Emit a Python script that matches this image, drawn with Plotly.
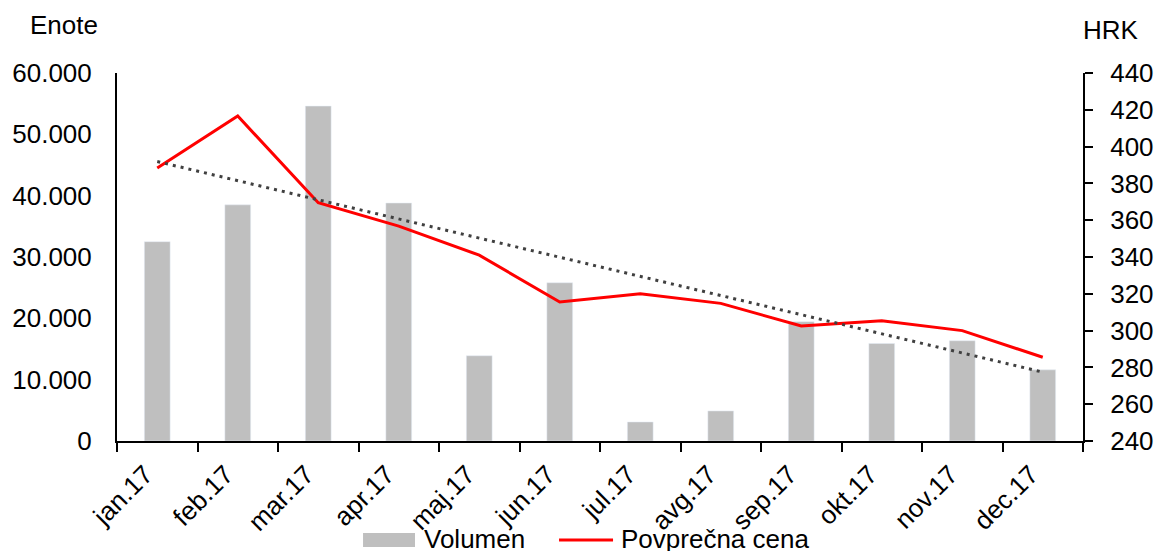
import numpy as np
import plotly.graph_objects as go

months = ["jan.17", "feb.17", "mar.17", "apr.17", "maj.17", "jun.17",
          "jul.17", "avg.17", "sep.17", "okt.17", "nov.17", "dec.17"]
volumen = [32500, 38500, 54600, 38800, 13900, 25800, 3100, 4900, 19450, 15900, 16350, 11600]
cena = [388.4, 416.6, 369.5, 356.8, 341.0, 315.5, 320.0, 314.8, 302.5, 305.4, 300.0, 285.5]
series_names = ["Volumen", "Povprečna cena"]

# linear trend of the price series
idx = np.arange(len(cena))
k, n = np.polyfit(idx, cena, 1)
trend = list(k * idx + n)

FONT = "Liberation Sans, Arial, sans-serif"
BAR_COLOR = "#bfbfbf"
LINE_COLOR = "#ff0000"

fig = go.Figure()
fig.add_trace(go.Bar(x=months, y=volumen, name=series_names[0], marker_color=BAR_COLOR,
                     width=0.32, yaxis="y", showlegend=False))
fig.add_trace(go.Scatter(x=months, y=cena, name=series_names[1], mode="lines",
                         line=dict(color=LINE_COLOR, width=3), yaxis="y2", showlegend=False))
fig.add_trace(go.Scatter(x=months, y=trend, name="Trend", mode="lines", showlegend=False,
                         line=dict(color="#404040", width=3, dash="3px,5px"), yaxis="y2"))

# legend drawn below the plot (paper coordinates)
shapes = [
    dict(type="rect", xref="paper", yref="paper", x0=0.2547, x1=0.3085, y0=-0.288, y1=-0.25,
         fillcolor=BAR_COLOR, line=dict(width=0)),
    dict(type="line", xref="paper", yref="paper", x0=0.4576, x1=0.5135, y0=-0.269, y1=-0.269,
         line=dict(color=LINE_COLOR, width=3)),
]
annotations = [
    dict(text="Enote", xref="paper", yref="paper", x=-0.092, y=1.130, xanchor="left",
         yanchor="middle", showarrow=False, font=dict(size=26)),
    dict(text="HRK", xref="paper", yref="paper", x=0.998, y=1.117, xanchor="left",
         yanchor="middle", showarrow=False, font=dict(size=26)),
    dict(text=series_names[0], xref="paper", yref="paper", x=0.3157, y=-0.265, xanchor="left",
         yanchor="middle", showarrow=False, font=dict(size=26)),
    dict(text=series_names[1], xref="paper", yref="paper", x=0.5197, y=-0.265, xanchor="left",
         yanchor="middle", showarrow=False, font=dict(size=26)),
]

fig.update_layout(
    width=1154, height=551,
    margin=dict(l=117, r=71, t=73, b=110, autoexpand=False),
    paper_bgcolor="white", plot_bgcolor="white",
    separators=",.",
    font=dict(family=FONT, size=26, color="black"),
    showlegend=False,
    xaxis=dict(type="category", showline=True, linecolor="black", linewidth=2,
               ticks="outside", tickson="boundaries", ticklen=9, tickwidth=2, tickcolor="black",
               tickangle=-45, showgrid=False, zeroline=False, automargin=False,
               ticklabelshift=-12, ticklabelstandoff=6,
               tickfont=dict(size=26)),
    yaxis=dict(range=[0, 60000], dtick=10000, tickformat=",.0f", showgrid=False,
               showline=True, linecolor="black", linewidth=2, ticks="", zeroline=False,
               automargin=False, ticklabelstandoff=18, tickfont=dict(size=26)),
    yaxis2=dict(range=[240, 440], dtick=20, overlaying="y", side="right", showgrid=False,
                showline=True, linecolor="black", linewidth=2, ticks="outside", ticklen=8,
                tickwidth=2, tickcolor="black", zeroline=False, automargin=False,
                ticklabelstandoff=12, tickfont=dict(size=26)),
    shapes=shapes,
    annotations=annotations,
)

fig.write_html("out.html", config={"displayModeBar": False},
               post_script="document.body.style.margin='0px';document.body.style.overflow='hidden';")
